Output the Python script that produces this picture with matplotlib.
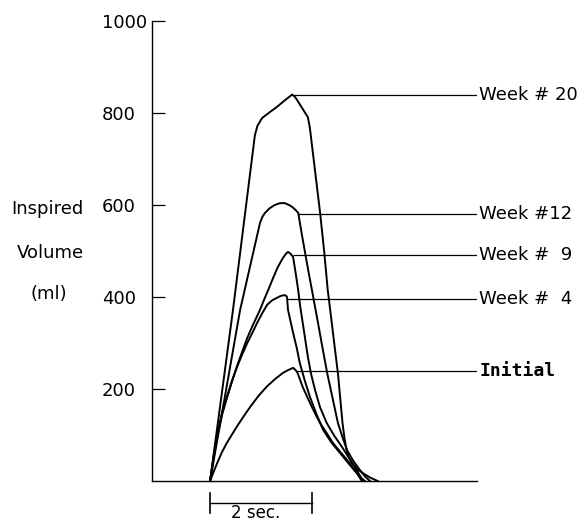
import matplotlib
matplotlib.use("Agg")
import matplotlib.pyplot as plt
import numpy as np

# traced breath curves, time in sec, volume in ml
t_wk20 = [0, 0.45, 0.88, 0.93, 1.02, 1.15, 1.31, 1.45, 1.61, 1.66, 1.71, 1.80, 1.92, 1.96,
          2.06, 2.16, 2.24, 2.31, 2.35, 2.39, 2.43, 2.47, 2.51, 2.54, 2.57, 2.60, 2.64, 2.69,
          2.78, 2.88, 3.00, 3.15, 3.29]
v_wk20 = [0, 372, 752, 772, 789, 800, 813, 826, 840, 836, 828, 812, 791, 767,
          675, 583, 499, 415, 379, 343, 306, 270, 234, 198, 162, 126, 92, 61,
          40, 27, 17, 7, 0]

t_wk12 = [0, 0.59, 0.98, 1.03, 1.08, 1.17, 1.27, 1.37, 1.47, 1.55, 1.61, 1.67, 1.73,
          1.80, 1.88, 1.94, 2.00, 2.06, 2.12, 2.18, 2.24, 2.30, 2.37, 2.44, 2.51, 2.60,
          2.69, 2.81, 2.94, 3.04, 3.14]
v_wk12 = [0, 372, 561, 575, 583, 593, 600, 604, 604, 600, 596, 590, 583,
          537, 487, 450, 415, 379, 343, 306, 270, 234, 198, 162, 126, 95,
          67, 44, 24, 10, 0]

t_wk9 = [0, 0.08, 0.16, 0.24, 0.33, 0.43, 0.53, 0.63, 0.73, 0.84, 0.98, 1.06, 1.14, 1.24,
         1.33, 1.43, 1.49, 1.53, 1.58, 1.63, 1.68, 1.73, 1.77, 1.82, 1.87, 1.92, 1.98,
         2.06, 2.16, 2.29, 2.44, 2.59, 2.74, 2.88, 3.00]
v_wk9 = [0, 58, 107, 146, 180, 216, 250, 281, 311, 339, 372, 394, 415, 442,
         465, 485, 494, 498, 494, 487, 452, 415, 379, 343, 306, 270, 234,
         198, 160, 126, 98, 74, 48, 24, 0]

t_wk4 = [0, 0.08, 0.16, 0.24, 0.33, 0.43, 0.53, 0.63, 0.73, 0.83, 0.92, 1.02, 1.12, 1.22,
         1.31, 1.38, 1.45, 1.49, 1.51, 1.53, 1.58, 1.63, 1.70, 1.76, 1.86, 1.96, 2.09,
         2.22, 2.38, 2.55, 2.72, 2.88, 2.98]
v_wk4 = [0, 60, 111, 150, 183, 218, 248, 275, 300, 322, 343, 364, 383, 393,
         398, 402, 404, 403, 400, 372, 347, 322, 290, 257, 218, 183, 145,
         111, 84, 61, 38, 17, 0]

t_init = [0, 0.07, 0.14, 0.23, 0.33, 0.43, 0.53, 0.65, 0.78, 0.95, 1.12, 1.28, 1.43, 1.53,
          1.63, 1.67, 1.71, 1.76, 1.82, 1.89, 1.96, 2.06, 2.16, 2.29, 2.41, 2.55, 2.69,
          2.82, 2.94, 3.04]
v_init = [0, 20, 39, 62, 83, 101, 119, 139, 160, 185, 206, 222, 235, 241,
          246, 242, 237, 222, 204, 187, 170, 147, 126, 104, 83, 64, 46,
          27, 9, 0]

# leader lines to the labels
labels = ["Week # 20", "Week #12", "Week #  9", "Week #  4", "Initial"]
lead_t = [1.61, 1.73, 1.63, 1.51, 1.71]
lead_v = [840, 580, 491, 396, 239]

yticks = [200, 400, 600, 800, 1000]

W, H = 586, 523
fig = plt.figure(figsize=(W / 100, H / 100), dpi=100)
ax = fig.add_axes([152 / W, (H - 481) / H, (477 - 152) / W, 460 / H])

x0, x1 = -1.14, 5.24
ax.set_xlim(x0, x1)
ax.set_ylim(0, 1000)

for t, v in [(t_wk20, v_wk20), (t_wk12, v_wk12), (t_wk9, v_wk9), (t_wk4, v_wk4), (t_init, v_init)]:
    ax.plot(t, v, color="black", lw=1.4, solid_joinstyle="round", clip_on=False)

ax.hlines(lead_v, lead_t, x1, color="black", lw=0.9)

for i, lab in enumerate(labels):
    if lab == "Initial":
        ax.text(x1 + 0.04, lead_v[i], lab, fontsize=13, family="DejaVu Sans Mono",
                fontweight="bold", va="center", ha="left", clip_on=False)
    else:
        ax.text(x1 + 0.04, lead_v[i], lab, fontsize=13, va="center", ha="left", clip_on=False)

for s in ["top", "right"]:
    ax.spines[s].set_visible(False)
ax.spines["left"].set_linewidth(1.0)
ax.spines["bottom"].set_linewidth(1.0)

ax.set_xticks([])
ax.set_yticks(yticks)
ax.set_yticklabels([str(y) for y in yticks])
ax.tick_params(axis="y", direction="in", length=9, width=0.9, pad=11.5, labelsize=13)
ax.get_yticklabels()[-1].set_x(0.034)

# 2 sec scale bar
ax.plot([0, 2], [-48, -48], color="black", lw=1.0, clip_on=False)
ax.plot([0, 0], [-26, -70], color="black", lw=1.2, clip_on=False)
ax.plot([2, 2], [-26, -70], color="black", lw=1.2, clip_on=False)
fig.text(256 / W, 1 / H, "2 sec.", fontsize=12, ha="center", va="bottom")

fig.text(47.5 / W, 1 - 209 / H, "Inspired", fontsize=13, ha="center", va="center")
fig.text(50 / W, 1 - 253 / H, "Volume", fontsize=13, ha="center", va="center")
fig.text(48.5 / W, 1 - 294 / H, "(ml)", fontsize=13, ha="center", va="center")

fig.savefig("out.png", dpi=100)
